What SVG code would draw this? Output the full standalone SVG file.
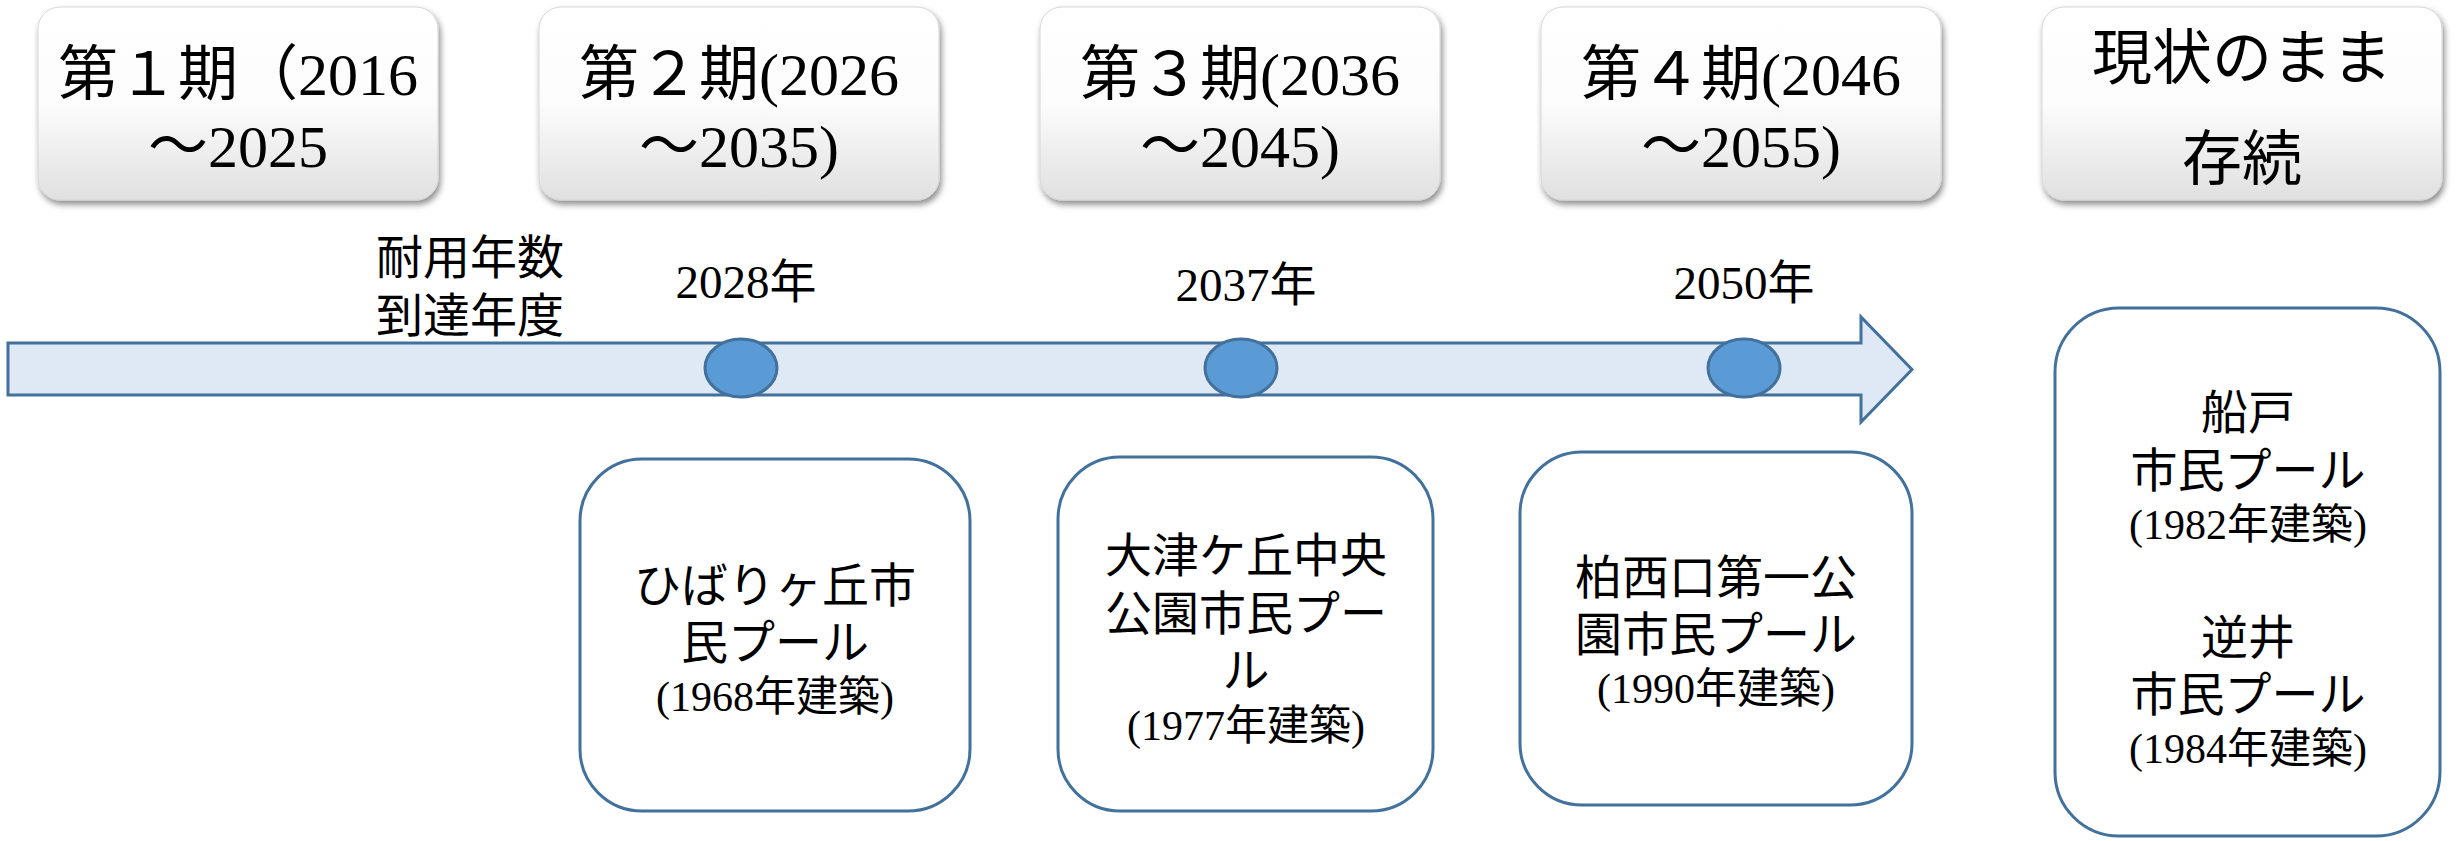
<svg xmlns="http://www.w3.org/2000/svg" width="2458" height="841" viewBox="0 0 2458 841">
<defs>
  <linearGradient id="gBox" x1="0" y1="0" x2="0" y2="1">
    <stop offset="0" stop-color="#ffffff"/>
    <stop offset="0.5" stop-color="#fcfcfc"/>
    <stop offset="1" stop-color="#e0e0e0"/>
  </linearGradient>
  <filter id="shadow" x="-5%" y="-5%" width="112%" height="125%">
    <feDropShadow dx="2" dy="4" stdDeviation="3" flood-color="#000000" flood-opacity="0.45"/>
  </filter>
</defs>
<style>
  text { font-family: "Liberation Serif", "Noto Sans CJK JP", serif; fill: #000000; text-anchor: middle; }
  .period rect { fill: url(#gBox); stroke: #d6d6d6; stroke-width: 1; filter: url(#shadow); }
  .pt { font-size: 60px; }
  .lbl { font-size: 47px; }
  .pool rect { fill: #ffffff; stroke: #41719c; stroke-width: 3; }
  .pn { font-size: 47px; }
  .py { font-size: 42px; }
  .dot { fill: #5b9bd5; stroke: #41719c; stroke-width: 3; }
  .arrow { fill: #dee9f5; stroke: #41719c; stroke-width: 3; stroke-linejoin: miter; }
</style>
<rect width="2458" height="841" fill="#ffffff"/>

<!-- period headers -->
<g id="period1" class="period">
  <rect x="38" y="7" width="400" height="193" rx="22" ry="22"/>
  <text class="pt" x="238" y="95">第１期（2016</text>
  <text class="pt" x="238" y="167">～2025</text>
</g>
<g id="period2" class="period">
  <rect x="539" y="7" width="400" height="193" rx="22" ry="22"/>
  <text class="pt" x="739" y="95">第２期(2026</text>
  <text class="pt" x="739" y="167">～2035)</text>
</g>
<g id="period3" class="period">
  <rect x="1040" y="7" width="400" height="193" rx="22" ry="22"/>
  <text class="pt" x="1240" y="95">第３期(2036</text>
  <text class="pt" x="1240" y="167">～2045)</text>
</g>
<g id="period4" class="period">
  <rect x="1541" y="7" width="400" height="193" rx="22" ry="22"/>
  <text class="pt" x="1741" y="95">第４期(2046</text>
  <text class="pt" x="1741" y="167">～2055)</text>
</g>
<g id="period5" class="period">
  <rect x="2042" y="7" width="400" height="193" rx="22" ry="22"/>
  <text class="pt" x="2242" y="79">現状のまま</text>
  <text class="pt" x="2242" y="180">存続</text>
</g>

<!-- timeline arrow -->
<g id="connectors">
  <polygon class="arrow" points="8,343 1861,343 1861,317 1912,369.5 1861,422 1861,395 8,395"/>
</g>

<g id="label-axis">
  <text class="lbl" x="470" y="274">耐用年数</text>
  <text class="lbl" x="470" y="332">到達年度</text>
</g>

<g id="milestone2028">
  <text class="lbl" x="746" y="298">2028年</text>
  <ellipse class="dot" cx="741" cy="368" rx="36" ry="29"/>
</g>
<g id="milestone2037">
  <text class="lbl" x="1246" y="301">2037年</text>
  <ellipse class="dot" cx="1241" cy="368" rx="36" ry="29"/>
</g>
<g id="milestone2050">
  <text class="lbl" x="1744" y="299">2050年</text>
  <ellipse class="dot" cx="1744" cy="368" rx="36" ry="29"/>
</g>

<!-- pools -->
<g id="pool-hibarigaoka" class="pool">
  <rect x="580" y="459" width="390" height="352" rx="62" ry="62"/>
  <text class="pn" x="775" y="602">ひばりヶ丘市</text>
  <text class="pn" x="775" y="659">民プール</text>
  <text class="py" x="775" y="711">(1968年建築)</text>
</g>
<g id="pool-otsugaoka" class="pool">
  <rect x="1058" y="457" width="375" height="354" rx="62" ry="62"/>
  <text class="pn" x="1246" y="572">大津ケ丘中央</text>
  <text class="pn" x="1246" y="630">公園市民プー</text>
  <text class="pn" x="1246" y="687">ル</text>
  <text class="py" x="1246" y="740">(1977年建築)</text>
</g>
<g id="pool-kashiwanishiguchi" class="pool">
  <rect x="1520" y="452" width="392" height="353" rx="62" ry="62"/>
  <text class="pn" x="1716" y="594">柏西口第一公</text>
  <text class="pn" x="1716" y="651">園市民プール</text>
  <text class="py" x="1716" y="703">(1990年建築)</text>
</g>
<g id="pool-remaining" class="pool">
  <rect x="2055" y="308" width="385" height="528" rx="64" ry="64"/>
  <text class="pn" x="2248" y="429">船戸</text>
  <text class="pn" x="2248" y="487">市民プール</text>
  <text class="py" x="2248" y="539">(1982年建築)</text>
  <text class="pn" x="2248" y="654">逆井</text>
  <text class="pn" x="2248" y="711">市民プール</text>
  <text class="py" x="2248" y="763">(1984年建築)</text>
</g>
</svg>
